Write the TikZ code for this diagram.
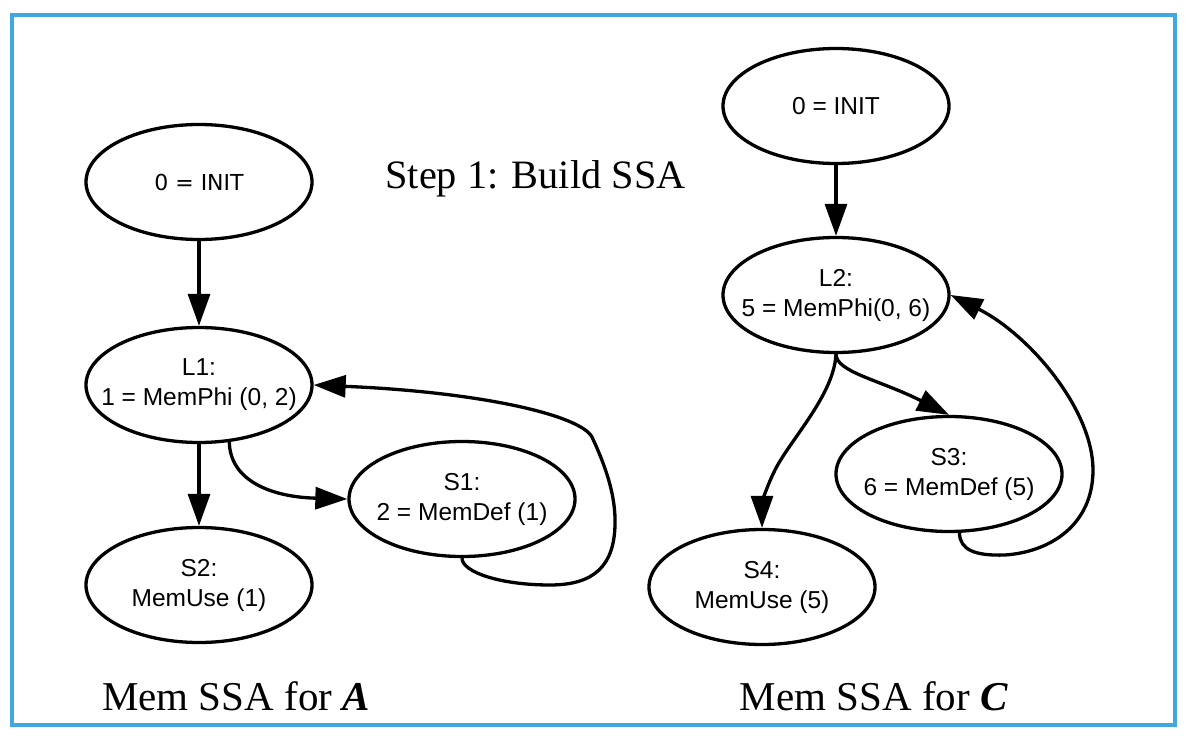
\documentclass[tikz,border=0pt]{standalone}
\usepackage{fontspec}
\setmainfont{Liberation Serif}
\newfontfamily\nodefont{Liberation Sans}
\newfontfamily\dvfont{DejaVu Sans}
\usetikzlibrary{shapes.geometric,arrows.meta}
\definecolor{frameblue}{HTML}{41A8DF}
\begin{document}
\begin{tikzpicture}[x=1pt,y=-1pt,
  state/.style={ellipse,draw,line width=3.3pt,minimum width=226pt,minimum height=115pt,
    inner xsep=-30pt,inner ysep=0pt,
    font=\nodefont\fontsize{24.5}{30}\selectfont,align=center},
  edge/.style={line width=3.3pt,-{Triangle[length=32pt,width=22pt]}},
  title/.style={font=\fontsize{41}{48}\selectfont,anchor=base,inner sep=0pt}]
\useasboundingbox (0,0) rectangle (1189,741);
\draw[frameblue,line width=4pt] (12,15) rectangle (1174.5,725);

% left graph
\node[state,font=\dvfont\fontsize{22}{27}\selectfont] (iA) at (199,182) {0 = INIT};
\node[state] (L1) at (199,385) {L1:\\1 = MemPhi (0, 2)};
\node[state] (S2) at (199,585) {S2:\\MemUse (1)};
\node[state] (S1) at (462,499) {S1:\\2 = MemDef (1)};

% right graph
\node[state] (iC) at (836,106) {0 = INIT};
\node[state] (L2) at (836,295) {L2:\\5 = MemPhi(0, 6)};
\node[state] (S3) at (949,474) {S3:\\6 = MemDef (5)};
\node[state] (S4) at (762,587) {S4:\\MemUse (5)};

% titles
\node[title,font=\fontsize{40.3}{48}\selectfont] (t1) at (535.5,188) {Step 1: Build SSA};
\node[title] (t2) at (236,710) {Mem SSA for \textbf{\textit{A}}};
\node[title] (t3) at (874,710) {Mem SSA for \textbf{\textit{C}}};

% left edges
\draw[edge] (iA) -- (L1);
\draw[edge] (L1) -- (S2);
\draw[edge] (L1.-62) .. controls (230,480) and (270,497) .. (S1.west);
\draw[edge] (S1.south) .. controls (462,572) and (500,585) .. (550,585)
  .. controls (595,585) and (614,565) .. (615,525)
  .. controls (616,495) and (605,465) .. (592,437)
  .. controls (580,415) and (480,392) .. (L1.east);

% right edges
\draw[edge] (iC) -- (L2);
\draw[edge] (L2.south) .. controls (836,372) and (880,380) .. (S3.north);
\draw[edge] (L2.south) .. controls (834,395) and (790,440) .. (775,470)
  .. controls (765,490) and (762,505) .. (S4.north);
\draw[edge] (S3.-80) .. controls (960,550) and (975,556) .. (1005,555)
  .. controls (1050,552) and (1093,525) .. (1093,470)
  .. controls (1093,410) and (1030,335) .. (L2.east);
\end{tikzpicture}
\end{document}
